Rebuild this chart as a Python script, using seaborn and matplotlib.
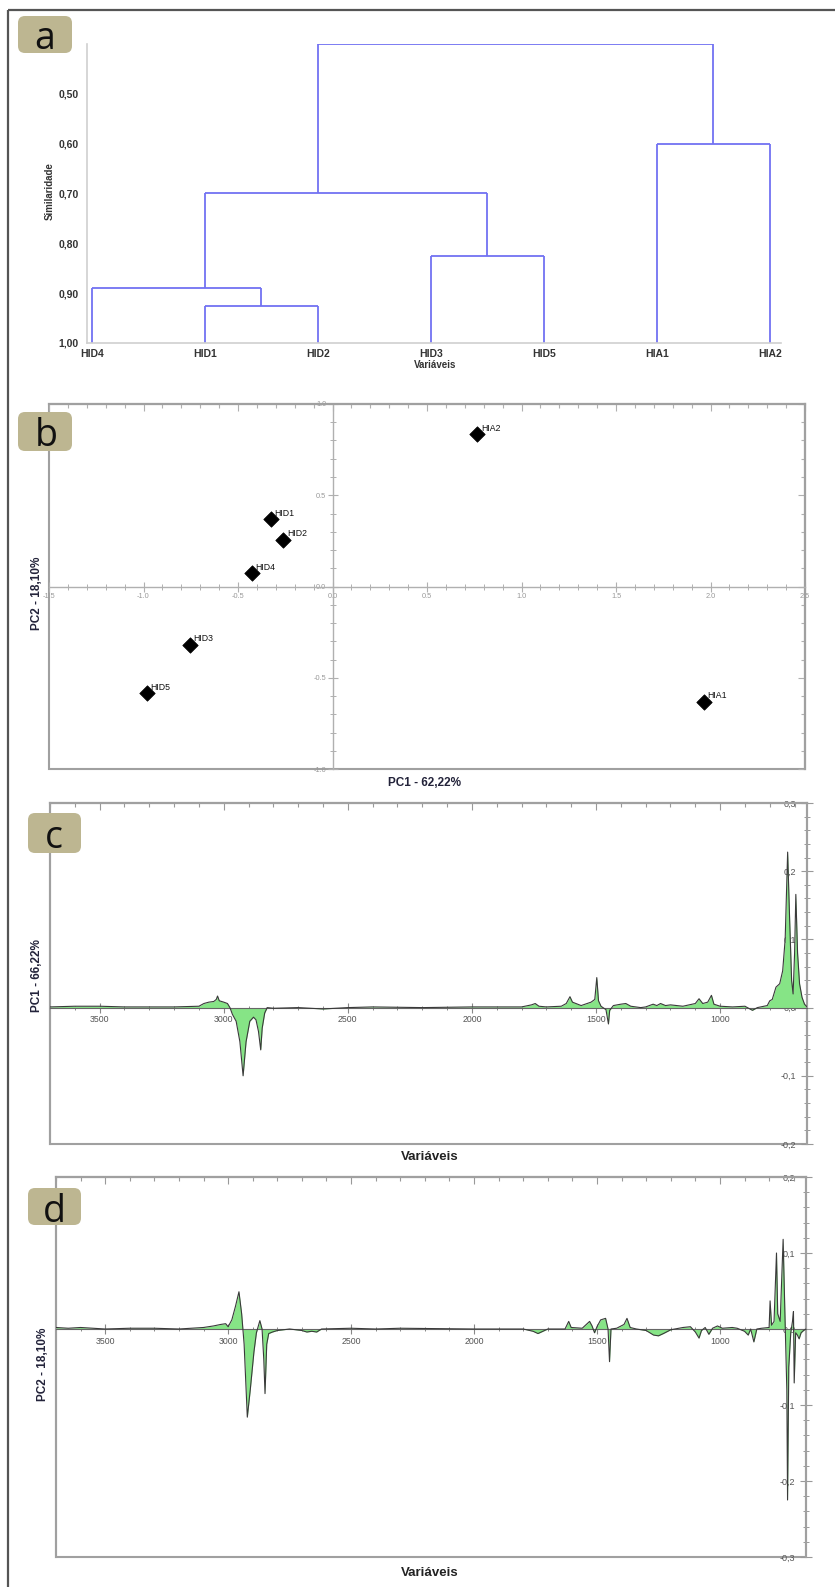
import numpy as np
import pandas as pd
import matplotlib
matplotlib.use("Agg")
import matplotlib.pyplot as plt
import seaborn as sns
from matplotlib.patches import FancyBboxPatch, Rectangle
from matplotlib.ticker import MultipleLocator, FuncFormatter, FixedLocator

# ---------------- data ----------------
# (a) dendrogram
leaves = ["HID4", "HID1", "HID2", "HID3", "HID5", "HIA1", "HIA2"]
merge_left = [1, 0, 3, 8, 5, 10]
merge_right = [2, 7, 4, 9, 6, 11]
merge_height = [0.925, 0.89, 0.825, 0.70, 0.60, 0.40]
sim_ticks = [0.50, 0.60, 0.70, 0.80, 0.90, 1.00]

# (b) scores
score_names = ["HID1", "HID2", "HID4", "HID3", "HID5", "HIA2", "HIA1"]
score_pc1 = [-0.327, -0.26, -0.426, -0.753, -0.984, 0.767, 1.964]
score_pc2 = [0.370, 0.257, 0.073, -0.320, -0.586, 0.834, -0.632]

# (c) PC1 loadings
pc1_wn = [3700, 3600, 3500, 3400, 3300, 3200, 3100, 3080, 3060, 3040, 3030, 3025,
          3018, 3000, 2985, 2975, 2965, 2950, 2935, 2922, 2910, 2895, 2880, 2870,
          2860, 2851, 2845, 2835, 2825, 2800, 2700, 2600, 2500, 2400, 2200, 2000,
          1900, 1800, 1760, 1745, 1730, 1700, 1640, 1620, 1605, 1595, 1560, 1520,
          1505, 1497, 1490, 1480, 1460, 1450, 1445, 1430, 1400, 1380, 1360, 1320,
          1300, 1270, 1255, 1240, 1220, 1200, 1150, 1100, 1085, 1070, 1050, 1035,
          1025, 1000, 950, 900, 870, 850, 810, 800, 790, 775, 760, 748, 738, 728,
          720, 712, 706, 700, 695, 688, 680, 670, 660, 650]
pc1_val = [0.001, 0.002, 0.002, 0.001, 0.001, 0.001, 0.002, 0.006, 0.008, 0.009, 0.012, 0.017,
           0.010, 0.008, 0.006, 0.000, -0.010, -0.020, -0.050, -0.100, -0.050, -0.020, -0.014, -0.018,
           -0.035, -0.062, -0.030, -0.008, 0.000, -0.001, 0.000, -0.002, 0.000, 0.001, 0.000, 0.001,
           0.001, 0.001, 0.004, 0.006, 0.002, 0.001, 0.002, 0.006, 0.016, 0.008, 0.003, 0.008,
           0.012, 0.044, 0.010, 0.002, -0.003, -0.024, -0.004, 0.003, 0.005, 0.006, 0.002, 0.000,
           0.001, 0.005, 0.003, 0.006, 0.003, 0.004, 0.002, 0.006, 0.013, 0.006, 0.008, 0.018,
           0.005, 0.002, 0.001, 0.002, -0.004, 0.000, 0.003, 0.010, 0.012, 0.030, 0.035, 0.054, 0.100, 0.228,
           0.130, 0.040, 0.020, 0.080, 0.166, 0.080, 0.035, 0.015, 0.005, 0.001]

# (d) PC2 loadings
pc2_wn = [3700, 3650, 3600, 3500, 3400, 3300, 3200, 3100, 3060, 3030, 3010, 3000,
          2985, 2970, 2956, 2945, 2935, 2922, 2910, 2895, 2885, 2871, 2862, 2855,
          2850, 2843, 2835, 2820, 2800, 2750, 2700, 2680, 2660, 2640, 2620, 2500,
          2400, 2300, 2000, 1900, 1800, 1760, 1740, 1720, 1700, 1630, 1615, 1605,
          1560, 1530, 1520, 1510, 1500, 1485, 1465, 1455, 1449, 1443, 1420, 1390,
          1378, 1365, 1340, 1300, 1270, 1250, 1230, 1200, 1150, 1120, 1100, 1085,
          1075, 1060, 1045, 1030, 1010, 990, 950, 930, 900, 885, 875, 862, 850,
          830, 800, 796, 790, 780, 770, 765, 755, 743, 735, 728, 725, 720, 712,
          705, 701, 698, 692, 685, 678, 670, 660, 650]
pc2_val = [0.002, 0.001, 0.002, 0.000, 0.001, 0.001, 0.000, 0.002, 0.004, 0.006, 0.007, 0.003,
           0.012, 0.030, 0.049, 0.020, -0.020, -0.116, -0.080, -0.030, -0.005, 0.011, 0.000, -0.040,
           -0.085, -0.020, -0.006, -0.004, -0.002, 0.000, -0.002, -0.004, -0.003, -0.004, 0.000, 0.001,
           0.000, 0.001, 0.000, 0.000, 0.000, -0.003, -0.006, -0.003, 0.000, 0.000, 0.010, 0.002,
           0.001, 0.010, 0.004, -0.005, 0.003, 0.012, 0.014, 0.000, -0.043, 0.000, 0.001, 0.006,
           0.014, 0.002, 0.000, -0.002, -0.008, -0.009, -0.006, -0.001, 0.002, 0.003, -0.004, -0.012,
           -0.002, 0.002, -0.007, 0.001, 0.004, 0.001, 0.002, 0.001, -0.003, -0.008, 0.000, -0.017, 0.000,
           0.001, 0.002, 0.037, 0.005, 0.010, 0.100, 0.020, 0.010, 0.118, 0.010, -0.080, -0.225, -0.050, -0.005,
           0.010, 0.023, -0.071, -0.005, -0.008, -0.013, -0.005, -0.002, 0.000]

# ---------------- figure ----------------
sns.set_theme(style="white")
plt.rcParams["font.family"] = ["Liberation Sans", "DejaVu Sans"]

W, H = 835, 1587
fig = plt.figure(figsize=(W / 100, H / 100), dpi=100)
fig.patch.set_facecolor("white")

frame_col = "#a0a0a0"


def rect(l, t, r, b):
    return [l / W, 1 - b / H, (r - l) / W, (b - t) / H]


def place_labels(ax, box, xl, yl):
    l, t, r, b = box
    ax.xaxis.set_label_coords((xl[0] - l) / (r - l), (b - xl[1]) / (b - t))
    ax.yaxis.set_label_coords((yl[0] - l) / (r - l), (b - yl[1]) / (b - t))
    ax.xaxis.label.set_verticalalignment("center")
    ax.yaxis.label.set_verticalalignment("center")


def inner_ticks(sec, axis, major, minor, col):
    target = sec.xaxis if axis == "x" else sec.yaxis
    target.set_major_locator(MultipleLocator(major))
    target.set_minor_locator(MultipleLocator(minor))
    sec.tick_params(which="both", direction="in", color=col, width=0.8,
                    labeltop=False, labelright=False, labelbottom=False, labelleft=False)
    sec.tick_params(which="major", length=5)
    sec.tick_params(which="minor", length=3)
    for sp in sec.spines.values():
        sp.set_color(frame_col)
        sp.set_linewidth(1.5)


label_color = "#23233a"

# ---------- (a) dendrogram ----------
box_a = (87, 44, 781, 343)
ax_a = fig.add_axes(rect(*box_a))
ax_a.set_facecolor("white")
dcol = "#7272f2"
n = len(leaves)
xpos = {i: float(i) for i in range(n)}
ypos = {i: 1.0 for i in range(n)}
members = {i: [i] for i in range(n)}
for k, (lc, rc, h) in enumerate(zip(merge_left, merge_right, merge_height)):
    node = n + k
    for c in (lc, rc):
        ax_a.plot([xpos[c], xpos[c]], [ypos[c], h], color=dcol, lw=1.3, solid_capstyle="butt")
    ax_a.plot([xpos[lc], xpos[rc]], [h, h], color=dcol, lw=1.3, solid_capstyle="butt")
    members[node] = members[lc] + members[rc]
    xpos[node] = float(np.mean(members[node]))
    ypos[node] = h
ax_a.set_ylim(1.0, 0.40)
ax_a.set_xlim(-0.044, 6.1)
ax_a.yaxis.set_major_locator(FixedLocator(sim_ticks))
ax_a.yaxis.set_major_formatter(FuncFormatter(lambda v, p: f"{v:.2f}".replace(".", ",")))
ax_a.set_xticks(range(n))
ax_a.set_xticklabels(leaves)
for s in ["top", "right"]:
    ax_a.spines[s].set_visible(False)
for s in ["left", "bottom"]:
    ax_a.spines[s].set_color("#d0d0d0")
    ax_a.spines[s].set_linewidth(1.2)
ax_a.tick_params(axis="both", length=3, width=0.8, color="#c8c8c8", labelcolor="#333333")
ax_a.tick_params(axis="y", pad=3, labelsize=7.5)
ax_a.tick_params(axis="x", pad=1, labelsize=7.5)
for t in ax_a.get_xticklabels() + ax_a.get_yticklabels():
    t.set_fontweight("bold")
ax_a.set_xlabel("Variáveis", fontsize=7, fontweight="bold", color="#333333")
ax_a.set_ylabel("Similaridade", fontsize=7, fontweight="bold", color="#333333")
place_labels(ax_a, box_a, (435, 365), (50, 191))

# ---------- (b) scores ----------
box_b = (49, 404, 805, 769)
ax_b = fig.add_axes(rect(*box_b))
ax_b.set_facecolor("white")
df_b = pd.DataFrame({"name": score_names, "pc1": score_pc1, "pc2": score_pc2})
sns.scatterplot(data=df_b, x="pc1", y="pc2", marker="D", s=62, color="black",
                edgecolor="black", linewidth=0.5, ax=ax_b, legend=False, zorder=5)
for nm, x, y in zip(score_names, score_pc1, score_pc2):
    ax_b.annotate(nm, (x, y), xytext=(2.5, 2.5), textcoords="offset points",
                  fontsize=6.3, color="#111111", zorder=6)
ax_b.set_xlim(-1.5, 2.5)
ax_b.set_ylim(-1.0, 1.0)
for s in ["left", "bottom"]:
    ax_b.spines[s].set_position(("data", 0))
    ax_b.spines[s].set_color("#b0b0b0")
    ax_b.spines[s].set_linewidth(1.0)
for s in ["top", "right"]:
    ax_b.spines[s].set_color(frame_col)
    ax_b.spines[s].set_linewidth(1.5)
ax_b.add_patch(Rectangle((0, 0), 1, 1, transform=ax_b.transAxes, fill=False,
                         ec=frame_col, lw=1.5, clip_on=False, zorder=0))
ax_b.xaxis.set_ticks_position("bottom")
ax_b.yaxis.set_ticks_position("left")
ax_b.xaxis.set_major_locator(MultipleLocator(0.5))
ax_b.xaxis.set_minor_locator(MultipleLocator(0.1))
ax_b.yaxis.set_major_locator(MultipleLocator(0.5))
ax_b.yaxis.set_minor_locator(MultipleLocator(0.1))
fmt1 = FuncFormatter(lambda v, p: f"{v:.1f}")
ax_b.xaxis.set_major_formatter(fmt1)
ax_b.yaxis.set_major_formatter(fmt1)
ax_b.tick_params(which="major", direction="inout", length=7, width=0.8, color="#b0b0b0",
                 labelsize=5.3, labelcolor="#999999", pad=1)
ax_b.tick_params(which="minor", direction="inout", length=4, width=0.7, color="#b0b0b0")
inner_ticks(ax_b.secondary_xaxis("top"), "x", 0.5, 0.1, "#b0b0b0")
inner_ticks(ax_b.secondary_yaxis("right"), "y", 0.5, 0.1, "#b0b0b0")
ax_b.set_xlabel("PC1 - 62,22%", fontsize=8.5, fontweight="bold", color=label_color)
ax_b.set_ylabel("PC2 - 18,10%", fontsize=8.5, fontweight="bold", color=label_color)
place_labels(ax_b, box_b, (425, 783), (37, 593))

# ---------- (c), (d) loadings ----------
green = "#86e486"


def spectrum(box, wn, val, ylim, ylab, xlab_pos, ylab_pos):
    ax = fig.add_axes(rect(*box))
    ax.set_facecolor("white")
    ax.fill_between(wn, val, 0, color=green, lw=0, zorder=2)
    sns.lineplot(x=wn, y=val, ax=ax, color="#3a3a3a", lw=0.8, sort=False,
                 estimator=None, zorder=3)
    ax.set_xlim(3700, 650)
    ax.set_ylim(*ylim)
    ax.spines["bottom"].set_position(("data", 0))
    ax.spines["bottom"].set_color("#666666")
    ax.spines["bottom"].set_linewidth(0.8)
    for s in ["top", "right", "left"]:
        ax.spines[s].set_color(frame_col)
        ax.spines[s].set_linewidth(1.5)
    ax.add_patch(Rectangle((0, 0), 1, 1, transform=ax.transAxes, fill=False,
                           ec=frame_col, lw=1.5, clip_on=False, zorder=0))
    ax.xaxis.set_ticks_position("bottom")
    ax.xaxis.set_major_locator(MultipleLocator(500))
    ax.xaxis.set_minor_locator(MultipleLocator(100))
    ax.xaxis.set_major_formatter(FuncFormatter(lambda v, p: f"{v:.0f}"))
    ax.yaxis.tick_right()
    ax.yaxis.set_major_locator(MultipleLocator(0.1))
    ax.yaxis.set_minor_locator(MultipleLocator(0.02))
    ax.yaxis.set_major_formatter(FuncFormatter(lambda v, p: f"{v:.1f}".replace(".", ",")))
    ax.tick_params(axis="x", which="major", direction="inout", length=7, width=0.8,
                   color="#888888", labelsize=6.3, labelcolor="#555555", pad=2)
    ax.tick_params(axis="x", which="minor", direction="inout", length=3.5, width=0.7,
                   color="#888888")
    ax.tick_params(axis="y", which="major", direction="inout", length=8, width=0.8,
                   color="#999999", labelsize=6.5, labelcolor="#555555", pad=-12)
    ax.tick_params(axis="y", which="minor", direction="inout", length=4, width=0.7,
                   color="#999999")
    for t in ax.get_yticklabels():
        t.set_horizontalalignment("right")
    inner_ticks(ax.secondary_xaxis("top"), "x", 500, 100, "#999999")
    ax.set_xlabel("Variáveis", fontsize=9.5, fontweight="bold", color="#222222")
    ax.set_ylabel(ylab, fontsize=8.5, fontweight="bold", color=label_color)
    ax.yaxis.set_label_position("left")
    place_labels(ax, box, xlab_pos, ylab_pos)
    return ax


ax_c = spectrum((50, 803, 807, 1144), pc1_wn, pc1_val, (-0.2, 0.3), "PC1 - 66,22%",
                (430, 1157), (37.5, 976))
ax_d = spectrum((56, 1177, 806, 1557), pc2_wn, pc2_val, (-0.3, 0.2), "PC2 - 18,10%",
                (430, 1573), (42.5, 1364))

# ---------- overlay: outer frame and panel letters ----------
ov = fig.add_axes([0, 0, 1, 1], zorder=20)
ov.set_xlim(0, W)
ov.set_ylim(H, 0)
ov.set_axis_off()
ov.add_patch(Rectangle((8, 10), W + 20, H + 20, fill=False, ec="#555555", lw=1.6))
panel_letters = ["a", "b", "c", "d"]
panel_boxes = [(18, 16, 72, 53), (18, 412, 72, 451), (28, 813, 81, 853), (28, 1188, 81, 1225)]
panel_base = [(45, 49), (46.5, 446.5), (54, 848), (54, 1221.5)]
for letter, (x0, y0, x1, y1), (tx, ty) in zip(panel_letters, panel_boxes, panel_base):
    ov.add_patch(FancyBboxPatch((x0, y0), x1 - x0, y1 - y0,
                                boxstyle="round,pad=0,rounding_size=7",
                                fc="#bdb691", ec="none"))
    ov.text(tx, ty, letter, fontsize=27, family=["Open Sans", "DejaVu Sans"],
            ha="center", va="baseline", color="#111111")

fig.savefig("out.png", dpi=100)
